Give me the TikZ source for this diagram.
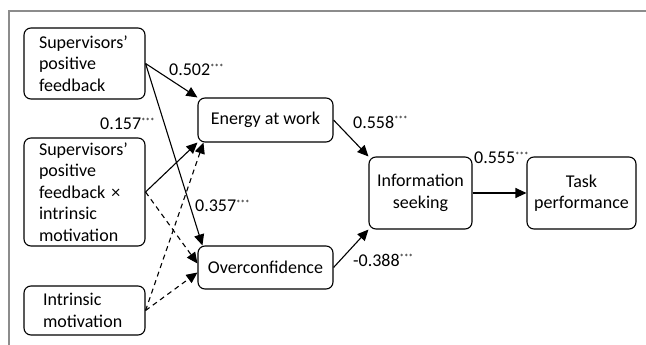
\documentclass[tikz,border=0pt]{standalone}
\usepackage{fontspec}
\setmainfont{Carlito}
\usetikzlibrary{arrows.meta,calc}
\newcommand\sigstars{\raisebox{5.5pt}{\fontsize{9}{9}\selectfont ***}}
\begin{document}
\begin{tikzpicture}[x=1pt,y=-1pt,
  every node/.style={font=\fontsize{18}{21.5}\selectfont},
  boxbase/.style={draw, rounded corners=7pt, line width=1.1pt, inner ysep=0pt},
  leftbox/.style={boxbase, align=left, text width=91pt, inner xsep=15pt},
  midbox/.style={boxbase, align=center, inner xsep=0pt},
  arr/.style={line width=1.1pt, -{Triangle[length=11pt,width=10pt]}},
  dsh/.style={dash pattern=on 5pt off 4pt},
  lab/.style={anchor=west, inner sep=0pt},
  frame/.style={draw=black!45, line width=2pt}
]
\useasboundingbox (0,0) rectangle (646,345);
\draw[frame] (8.5,345) -- (8.5,11.5) -- (646,11.5);

\node[leftbox, minimum height=71pt] (spf) at (84.5,63.5) {Supervisors’\\positive\\feedback};
\node[leftbox, minimum height=108pt] (int) at (84.5,192) {Supervisors’\\positive\\feedback ×\\intrinsic\\motivation};
\node[boxbase, align=left, text width=83pt, inner xsep=19pt, minimum height=49pt] (im) at (84.5,310.5) {Intrinsic\\motivation};

\node[midbox, minimum width=135pt, minimum height=44pt] (eaw) at (265.5,120) {Energy at work};
\node[midbox, minimum width=135pt, minimum height=43pt] (ovc) at (265.5,267.5) {Overconfidence};
\node[midbox, minimum width=103pt, minimum height=72pt] (inf) at (420.5,193) {Information\\seeking};
\node[midbox, minimum width=109pt, minimum height=72pt] (tp) at (581.5,193) {Task\\performance};

\draw[arr] (spf.east) -- (eaw.north west);
\draw[arr] (spf.east) -- ($(ovc.north west)+(5,0)$);
\draw[arr] (int.east) -- (eaw.south west);
\draw[arr,dsh] (int.east) -- ($(ovc.west)+(0,-4)$);
\draw[arr,dsh] (im.east) -- ($(eaw.south west)+(6,0)$);
\draw[arr,dsh] (im.east) -- ($(ovc.west)+(0,5)$);
\draw[arr] (eaw.east) -- (inf.north west);
\draw[arr] (ovc.east) -- (inf.south west);
\draw[arr] (inf.east) -- (tp.west);

\node[lab] (l1) at (169,70) {0.502\sigstars};
\node[lab] (l2) at (100,124) {0.157\sigstars};
\node[lab] (l3) at (195,206) {0.357\sigstars};
\node[lab] (l4) at (353,122) {0.558\sigstars};
\node[lab] (l5) at (474,158) {0.555\sigstars};
\node[lab] (l6) at (353,260) {-0.388\sigstars};
\end{tikzpicture}
\end{document}
